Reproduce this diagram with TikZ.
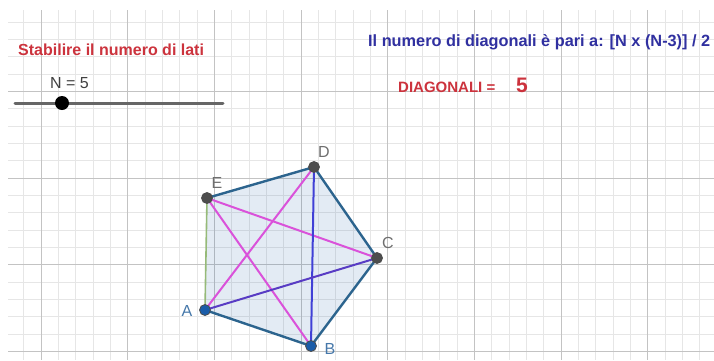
\documentclass[tikz,border=0pt]{standalone}
\usepackage{fontspec}
\setmainfont{Liberation Sans}
\usepackage{tikz}
\usetikzlibrary{positioning}
\definecolor{gridmajor}{RGB}{195,195,195}
\definecolor{gridminor}{RGB}{230,230,230}
\definecolor{titlered}{RGB}{204,51,61}
\definecolor{formulablue}{RGB}{48,48,160}
\definecolor{sideblue}{RGB}{44,100,142}
\definecolor{sidegreen}{RGB}{150,186,120}
\definecolor{diagpink}{RGB}{218,82,218}
\definecolor{diagblue}{RGB}{64,64,214}
\definecolor{diagviolet}{RGB}{88,60,196}
\definecolor{ptgray}{RGB}{77,77,77}
\definecolor{ptblue}{RGB}{26,92,168}
\definecolor{lblgray}{RGB}{110,110,110}
\definecolor{lblblue}{RGB}{70,120,170}

\begin{document}
\begin{tikzpicture}[x=1pt, y=-1pt, font=\fontsize{16}{18}\selectfont,
  minorline/.style={gridminor, line width=0.8pt},
  majorline/.style={gridmajor, line width=1pt},
  side/.style={sideblue, line width=2.4pt},
  diag/.style={line width=2pt},
  vertex/.style={circle, draw=black!70, line width=0.8pt, inner sep=0pt, minimum size=11pt},
  lbl/.style={inner sep=0pt}]
  \fill[white] (0,0) rectangle (714,360);
  % squared paper
  \begin{scope}
    \clip (8,10) rectangle (714,360);
    \foreach \k in {-2,...,39} {
      \draw[minorline] ({41+\k*17.333},0) -- ({41+\k*17.333},360);}
    \foreach \k in {-10,...,11} {
      \draw[minorline] (0,{178+\k*17.333}) -- (714,{178+\k*17.333});}
    \foreach \k in {0,...,7} {
      \draw[majorline] ({41+\k*86.667},0) -- ({41+\k*86.667},360);}
    \foreach \k in {-2,...,2} {
      \draw[majorline] (0,{178+\k*86.667}) -- (714,{178+\k*86.667});}
  \end{scope}
  % slider
  \node[lbl, text=titlered, font=\fontsize{16}{18}\selectfont\bfseries, anchor=west] (title) at (18,50) {Stabilire il numero di lati};
  \node[lbl, text=black!75, anchor=west] (nval) at (50,83) {N = 5};
  \coordinate (sl0) at (15,103);
  \coordinate (sl1) at (223,103);
  \draw[black!60, line width=3pt, line cap=round] (sl0) -- (sl1);
  \node[circle, fill=black, inner sep=0pt, minimum size=14pt] (knob) at (62,103) {};
  % formula
  \node[lbl, text=formulablue, font=\fontsize{16.3}{18}\selectfont\bfseries, anchor=west] (formula) at (368,42) {Il numero di diagonali è pari a: [N x (N-3)] / 2};
  \node[lbl, text=titlered, font=\fontsize{15}{18}\selectfont\bfseries, anchor=west] (dlabel) at (398,87) {DIAGONALI =};
  \node[lbl, text=titlered, font=\fontsize{21}{24}\selectfont\bfseries, anchor=west] (dvalue) at (516,85) {5};
  % pentagon
  \coordinate (A) at (205,310);
  \coordinate (B) at (311,346);
  \coordinate (C) at (377,258);
  \coordinate (D) at (314,167);
  \coordinate (E) at (207,198);
  \fill[ptblue, fill opacity=0.12] (A) -- (B) -- (C) -- (D) -- (E) -- cycle;
  \draw[diag, diagpink] (E) -- (C);
  \draw[diag, diagpink] (E) -- (B);
  \draw[diag, diagpink] (D) -- (A);
  \draw[diag, diagblue] (D) -- (B);
  \draw[diag, diagviolet] (A) -- (C);
  \draw[side] (A) -- (B);
  \draw[side] (B) -- (C);
  \draw[side] (C) -- (D);
  \draw[side] (D) -- (E);
  \draw[sidegreen, line width=1.6pt] (E) -- (A);
  \foreach \v in {C,D,E} {\node[vertex, fill=ptgray] (p\v) at (\v) {};}
  \foreach \v in {A,B} {\node[vertex, fill=ptblue] (p\v) at (\v) {};}
  \node[lbl, text=lblblue] (lA) at (187,311) {A};
  \node[lbl, text=lblblue] (lB) at (330,349) {B};
  \node[lbl, text=lblgray] (lC) at (388,243) {C};
  \node[lbl, text=lblgray] (lD) at (324,152) {D};
  \node[lbl, text=lblgray] (lE) at (217,183) {E};
\end{tikzpicture}
\end{document}
